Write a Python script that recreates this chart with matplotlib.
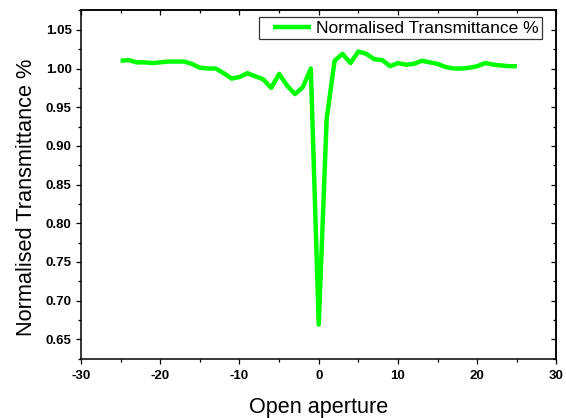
import matplotlib
matplotlib.use("Agg")
import matplotlib.pyplot as plt
from matplotlib.ticker import MultipleLocator
from matplotlib.legend_handler import HandlerLine2D

plt.rcParams['font.family'] = ['Liberation Sans', 'DejaVu Sans']
plt.rcParams['axes.unicode_minus'] = False

x_vals = list(range(-25, 26))
transmittance = [1.010, 1.011, 1.008, 1.008, 1.007, 1.008, 1.009, 1.009, 1.009, 1.006,
                 1.001, 1.000, 1.000, 0.994, 0.987, 0.989, 0.994, 0.990, 0.986, 0.975,
                 0.993, 0.978, 0.967, 0.976, 1.000, 0.669, 0.935, 1.010, 1.019, 1.007,
                 1.022, 1.019, 1.012, 1.011, 1.003, 1.007, 1.005, 1.006, 1.010, 1.008,
                 1.006, 1.002, 1.000, 1.000, 1.001, 1.003, 1.007, 1.005, 1.004, 1.003,
                 1.003]
series_label = "Normalised Transmittance %"
x_label = "Open aperture"
y_label = "Normalised Transmittance %"

fig = plt.figure(figsize=(5.66, 4.18), dpi=100)
ax = fig.add_axes([0.1431, 0.1419, 0.8401, 0.8330])
line, = ax.plot(x_vals, transmittance, color='#00FF00', lw=3.2, label=series_label,
                solid_joinstyle='round', solid_capstyle='butt')

ax.set_xlim(-30, 30)
ax.set_ylim(0.625, 1.075)
ax.xaxis.set_major_locator(MultipleLocator(10))
ax.xaxis.set_minor_locator(MultipleLocator(5))
ax.yaxis.set_major_locator(MultipleLocator(0.05))
ax.yaxis.set_minor_locator(MultipleLocator(0.025))
ax.yaxis.set_major_formatter(plt.FormatStrFormatter('%.2f'))
ax.tick_params(which='major', direction='out', length=3.6, width=0.9, labelsize=9.5)
ax.tick_params(axis='x', which='major', pad=4.5)
ax.tick_params(axis='y', which='major', pad=3.2)
ax.tick_params(which='minor', direction='out', length=2.4, width=0.9)
for lab in ax.get_xticklabels() + ax.get_yticklabels():
    lab.set_fontweight('bold')

# mirrored inward ticks on top/right
secx = ax.secondary_xaxis('top')
secx.xaxis.set_major_locator(MultipleLocator(10))
secx.xaxis.set_minor_locator(MultipleLocator(5))
secx.tick_params(which='major', direction='in', length=3.6, width=0.9, labeltop=False)
secx.tick_params(which='minor', direction='in', length=2.4, width=0.9)
secy = ax.secondary_yaxis('right')
secy.yaxis.set_major_locator(MultipleLocator(0.05))
secy.yaxis.set_minor_locator(MultipleLocator(0.025))
secy.tick_params(which='major', direction='in', length=3.6, width=0.9, labelright=False)
secy.tick_params(which='minor', direction='in', length=2.4, width=0.9)

for s in ax.spines.values():
    s.set_linewidth(1.1)
secx.spines['top'].set_linewidth(1.1)
secy.spines['right'].set_linewidth(1.1)

ax.set_xlabel(x_label, fontsize=15.6, labelpad=11)
ax.set_ylabel(y_label, fontsize=15.7)
ax.yaxis.set_label_coords(-0.0934, 0.463)

leg = ax.legend(loc='upper right', fontsize=12.5, frameon=True, fancybox=False,
                edgecolor='black', handlelength=2.79, borderpad=0.2,
                handletextpad=0.29, bbox_to_anchor=(0.970, 0.9805), borderaxespad=0,
                handler_map={line: HandlerLine2D(xpad=0.6)})
leg.get_frame().set_linewidth(0.9)

fig.savefig('out.png', dpi=100)
